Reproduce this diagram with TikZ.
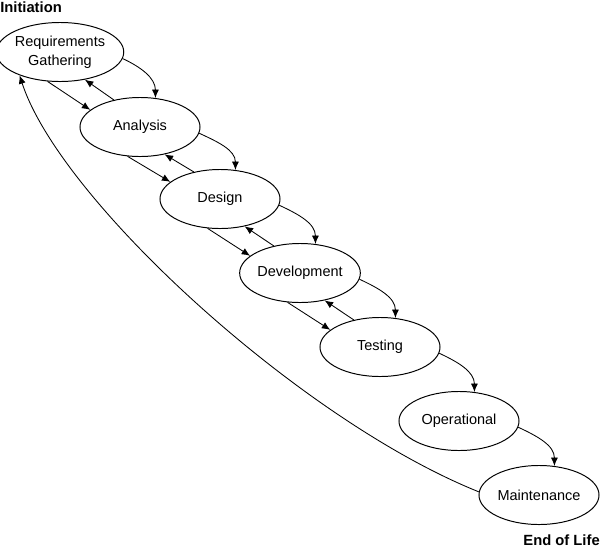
\documentclass[tikz,border=0pt]{standalone}
\usepackage{fontspec}
\setmainfont{Liberation Sans}
\usetikzlibrary{shapes.geometric,arrows.meta}
\begin{document}
\begin{tikzpicture}[x=0.025cm,y=-0.025cm,
  phase/.style={ellipse,draw,line width=0.7pt,minimum width=3cm,minimum height=1.475cm,inner sep=0pt,align=center,font=\fontsize{10.3}{13.3}\selectfont},
  conn/.style={line width=0.6pt,-{Latex[length=6pt,width=5pt]}},
  lbl/.style={inner sep=0pt,font=\fontsize{10.5}{12}\selectfont\bfseries}]
\useasboundingbox (0,0) rectangle (600,547);
\node[phase] (R) at (60,52) {Requirements\\Gathering};
\node[phase] (A) at (140,127) {Analysis};
\node[phase] (D) at (220,199) {Design};
\node[phase] (V) at (300,273) {Development};
\node[phase] (T) at (380,347) {Testing};
\node[phase] (O) at (459,421) {Operational};
\node[phase] (M) at (539,495) {Maintenance};
\node[lbl,anchor=base west] (init) at (0,12) {Initiation};
\node[lbl,anchor=base east] (eol) at (600,545) {End of Life};
% curved forward arrows
\draw[conn] (R.-6) to[out=-25,in=90] (A.62);
\draw[conn] (A.-6) to[out=-25,in=90] (D.62);
\draw[conn] (D.-6) to[out=-25,in=90] (V.62);
\draw[conn] (V.-6) to[out=-25,in=90] (T.62);
\draw[conn] (T.-6) to[out=-25,in=90] (O.62);
\draw[conn] (O.-6) to[out=-25,in=90] (M.62);
% straight forward and back arrows
\foreach \a/\b in {R/A,A/D,D/V,V/T}{
  \draw[conn] (\a.247) -- (\b.161);
  \draw[conn] (\b.134) -- (\a.312);
}
% return arrow
\draw[conn] (M.177) .. controls (300,420) and (60,200) .. (R.210);
\end{tikzpicture}
\end{document}
